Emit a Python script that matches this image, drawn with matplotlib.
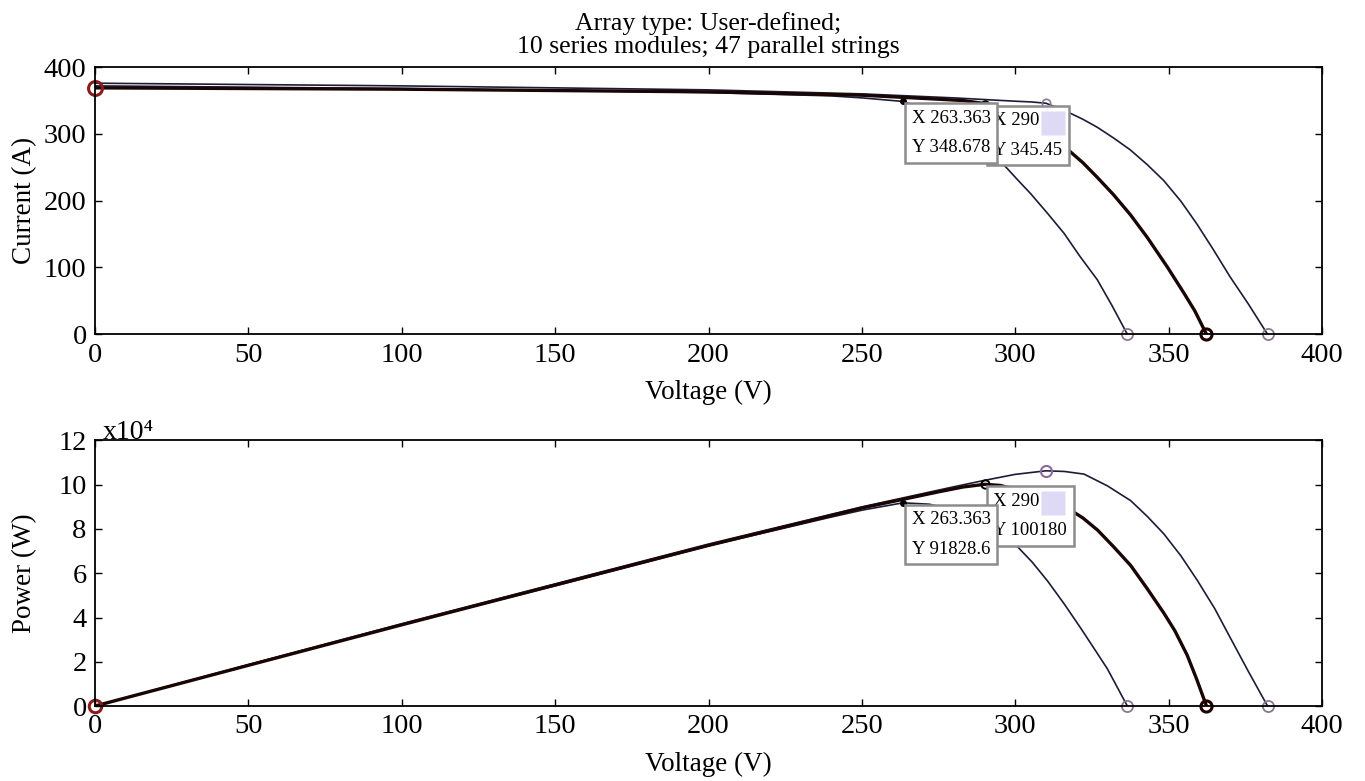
import matplotlib
matplotlib.use('Agg')
import matplotlib.pyplot as plt
from matplotlib.ticker import FuncFormatter, MultipleLocator
from matplotlib.transforms import offset_copy

plt.rcParams['font.family'] = ['Liberation Serif', 'DejaVu Serif']

# I-V curves (three irradiance/temperature cases)
v1_iv = [0, 100, 200, 240, 250, 263.363, 272, 280, 290, 297.4, 301, 305,
         310.5, 315.9, 321, 326.7, 331.5, 336.5]
i1 = [372, 368, 362, 357, 354, 348.678, 335, 315, 282, 248, 230, 210.5,
      181, 151, 117, 81.7, 43, 0]

v2_iv = [0, 100, 200, 250, 275, 283, 290, 295, 300, 310, 317, 322, 326.7,
         332, 337.5, 343, 349.5, 354.9, 358.5, 362.3]
i2 = [369, 367, 363, 358, 352, 350, 345.45, 338, 327, 300, 277, 257, 235,
      209, 179, 145, 101, 62, 35, 0]

v3_iv = [0, 100, 200, 250, 280, 300, 305, 310, 317, 322, 326.7, 332, 337.5,
         343, 348.4, 354, 359.2, 364.5, 370, 376, 382.2]
i3 = [376, 372, 366, 360, 354, 349, 348, 346, 333, 322, 310, 294, 276,
      254, 230, 199, 165, 127, 86, 45, 0]

# P-V curves
v1_pv = [0, 50, 100, 150, 200, 240, 250, 263.363, 272, 280, 290, 295, 300.7,
         305.5, 310.5, 316, 321.3, 326, 330, 336.5]
p1 = [0, 18600, 36800, 54300, 72400, 85400, 88500, 91828.6, 91200, 88500,
      82500, 78500, 72000, 65000, 56500, 46000, 35200, 25300, 16800, 0]

v2_pv = [0, 50, 100, 150, 200, 250, 275, 283, 290, 295, 300, 310, 318.6,
         322, 326.8, 332, 337.6, 343, 348.4, 352, 356, 359, 362.3]
p2 = [0, 18400, 36700, 54700, 72600, 89500, 96800, 99000, 100180, 99700,
      98000, 93000, 88000, 85000, 79500, 72000, 63500, 53000, 42000, 34000,
      23000, 12500, 0]

v3_pv = [0, 50, 100, 150, 200, 250, 280, 290, 300, 310, 316, 322.4, 330,
         337.6, 343, 348.4, 354, 359.3, 365, 370, 376, 382.2]
p3 = [0, 18700, 37200, 55200, 73200, 90000, 99100, 102000, 104700, 106300,
      106000, 104800, 99500, 92800, 85700, 77800, 67800, 56800, 44000,
      31000, 15500, 0]

# data tips
tip1_v, tip1_i, tip1_p = 263.363, 348.678, 91828.6
tip2_v, tip2_i, tip2_p = 290, 345.45, 100180
mpp3_v, mpp3_i, mpp3_p = 310, 346, 106300

thin = '#1c1c36'
thick = '#1a0505'
ring = '#8a7890'

fig = plt.figure(figsize=(13.65, 7.81), dpi=100)
ax1 = fig.add_axes([0.0696, 0.572, 0.899, 0.342])
ax2 = fig.add_axes([0.0696, 0.096, 0.899, 0.340])


def style(ax):
    ax.set_xlim(0, 400)
    ax.xaxis.set_major_locator(MultipleLocator(50))
    ax.tick_params(direction='in', length=5, width=1, top=True, right=True,
                   labelsize=20.5, pad=6)
    for s in ax.spines.values():
        s.set_linewidth(1.3)
    ax.set_xlabel('Voltage (V)', fontsize=19.5, labelpad=9)


def tip(ax, x, y, text, z):
    ax.annotate(text, xy=(x, y), xytext=(6.2, -6.2), textcoords='offset points',
                ha='left', va='top', fontsize=13.5, linespacing=1.95, zorder=z,
                bbox=dict(boxstyle='square,pad=0.35', fc='white', ec='#8c8c8c', lw=1.8))


def tint(ax, x, y):
    # selection highlight inside the second data tip
    tr = offset_copy(ax.transData, fig=fig, x=68, y=-19, units='dots')
    ax.plot(x, y, 's', ms=17, color='#dedaf5', mec='none', transform=tr, zorder=5.5)


# current vs voltage
ax1.plot(v1_iv, i1, color=thin, lw=1.2)
ax1.plot(v3_iv, i3, color=thin, lw=1.2)
ax1.plot(v2_iv, i2, color=thick, lw=2.4)
ax1.plot([v1_iv[-1], v3_iv[-1]], [i1[-1], i3[-1]], 'o', ms=8, mfc='none', mec=ring, mew=1.3, clip_on=False)
ax1.plot(v2_iv[-1], i2[-1], 'o', ms=8, mfc='none', mec='#200000', mew=2.2, clip_on=False)
ax1.plot(v2_iv[0], i2[0], 'o', ms=10, mfc='none', mec='#8b1a1a', mew=2.2, clip_on=False)
ax1.plot(mpp3_v, mpp3_i, 'o', ms=6, mfc='none', mec=ring, mew=1.2)
ax1.plot(tip1_v, tip1_i, 'o', ms=4, color='black')
ax1.plot(tip2_v, tip2_i, 'o', ms=5, mfc='none', mec='black', mew=1.2)
ax1.set_ylim(0, 400)
ax1.yaxis.set_major_locator(MultipleLocator(100))
ax1.set_ylabel('Current (A)', fontsize=19.5, labelpad=5)
style(ax1)
tip(ax1, tip2_v, tip2_i, 'X 290\nY 345.45', 5)
tint(ax1, tip2_v, tip2_i)
tip(ax1, tip1_v, tip1_i, 'X 263.363\nY 348.678', 6)
ax1.set_title('Array type: User-defined;\n10 series modules; 47 parallel strings',
              fontsize=18.5, linespacing=1.1, pad=10)

# power vs voltage
ax2.plot(v1_pv, p1, color=thin, lw=1.2)
ax2.plot(v3_pv, p3, color=thin, lw=1.2)
ax2.plot(v2_pv, p2, color=thick, lw=2.4)
ax2.plot([v1_pv[-1], v3_pv[-1]], [p1[-1], p3[-1]], 'o', ms=8, mfc='none', mec=ring, mew=1.3, clip_on=False)
ax2.plot(v2_pv[-1], p2[-1], 'o', ms=8, mfc='none', mec='#200000', mew=2.2, clip_on=False)
ax2.plot(v2_pv[0], p2[0], 'o', ms=9, mfc='none', mec='#8b1a1a', mew=2.2, clip_on=False)
ax2.plot(mpp3_v, mpp3_p, 'o', ms=8, mfc='none', mec='#8a6a9a', mew=1.5)
ax2.plot(tip1_v, tip1_p, 'o', ms=4, color='black')
ax2.plot(tip2_v, tip2_p, 'o', ms=6, mfc='none', mec='black', mew=1.4)
ax2.set_ylim(0, 120000)
ax2.yaxis.set_major_locator(MultipleLocator(20000))
ax2.yaxis.set_major_formatter(FuncFormatter(lambda v, pos: f'{v / 1e4:g}'))
ax2.set_ylabel('Power (W)', fontsize=19.5, labelpad=15)
style(ax2)
ax2.text(0.006, 1.004, 'x10⁴', transform=ax2.transAxes, fontsize=20,
         ha='left', va='baseline')
tip(ax2, tip2_v, tip2_p, 'X 290\nY 100180', 5)
tint(ax2, tip2_v, tip2_p)
tip(ax2, tip1_v, tip1_p, 'X 263.363\nY 91828.6', 6)

fig.savefig('out.png', dpi=100)
